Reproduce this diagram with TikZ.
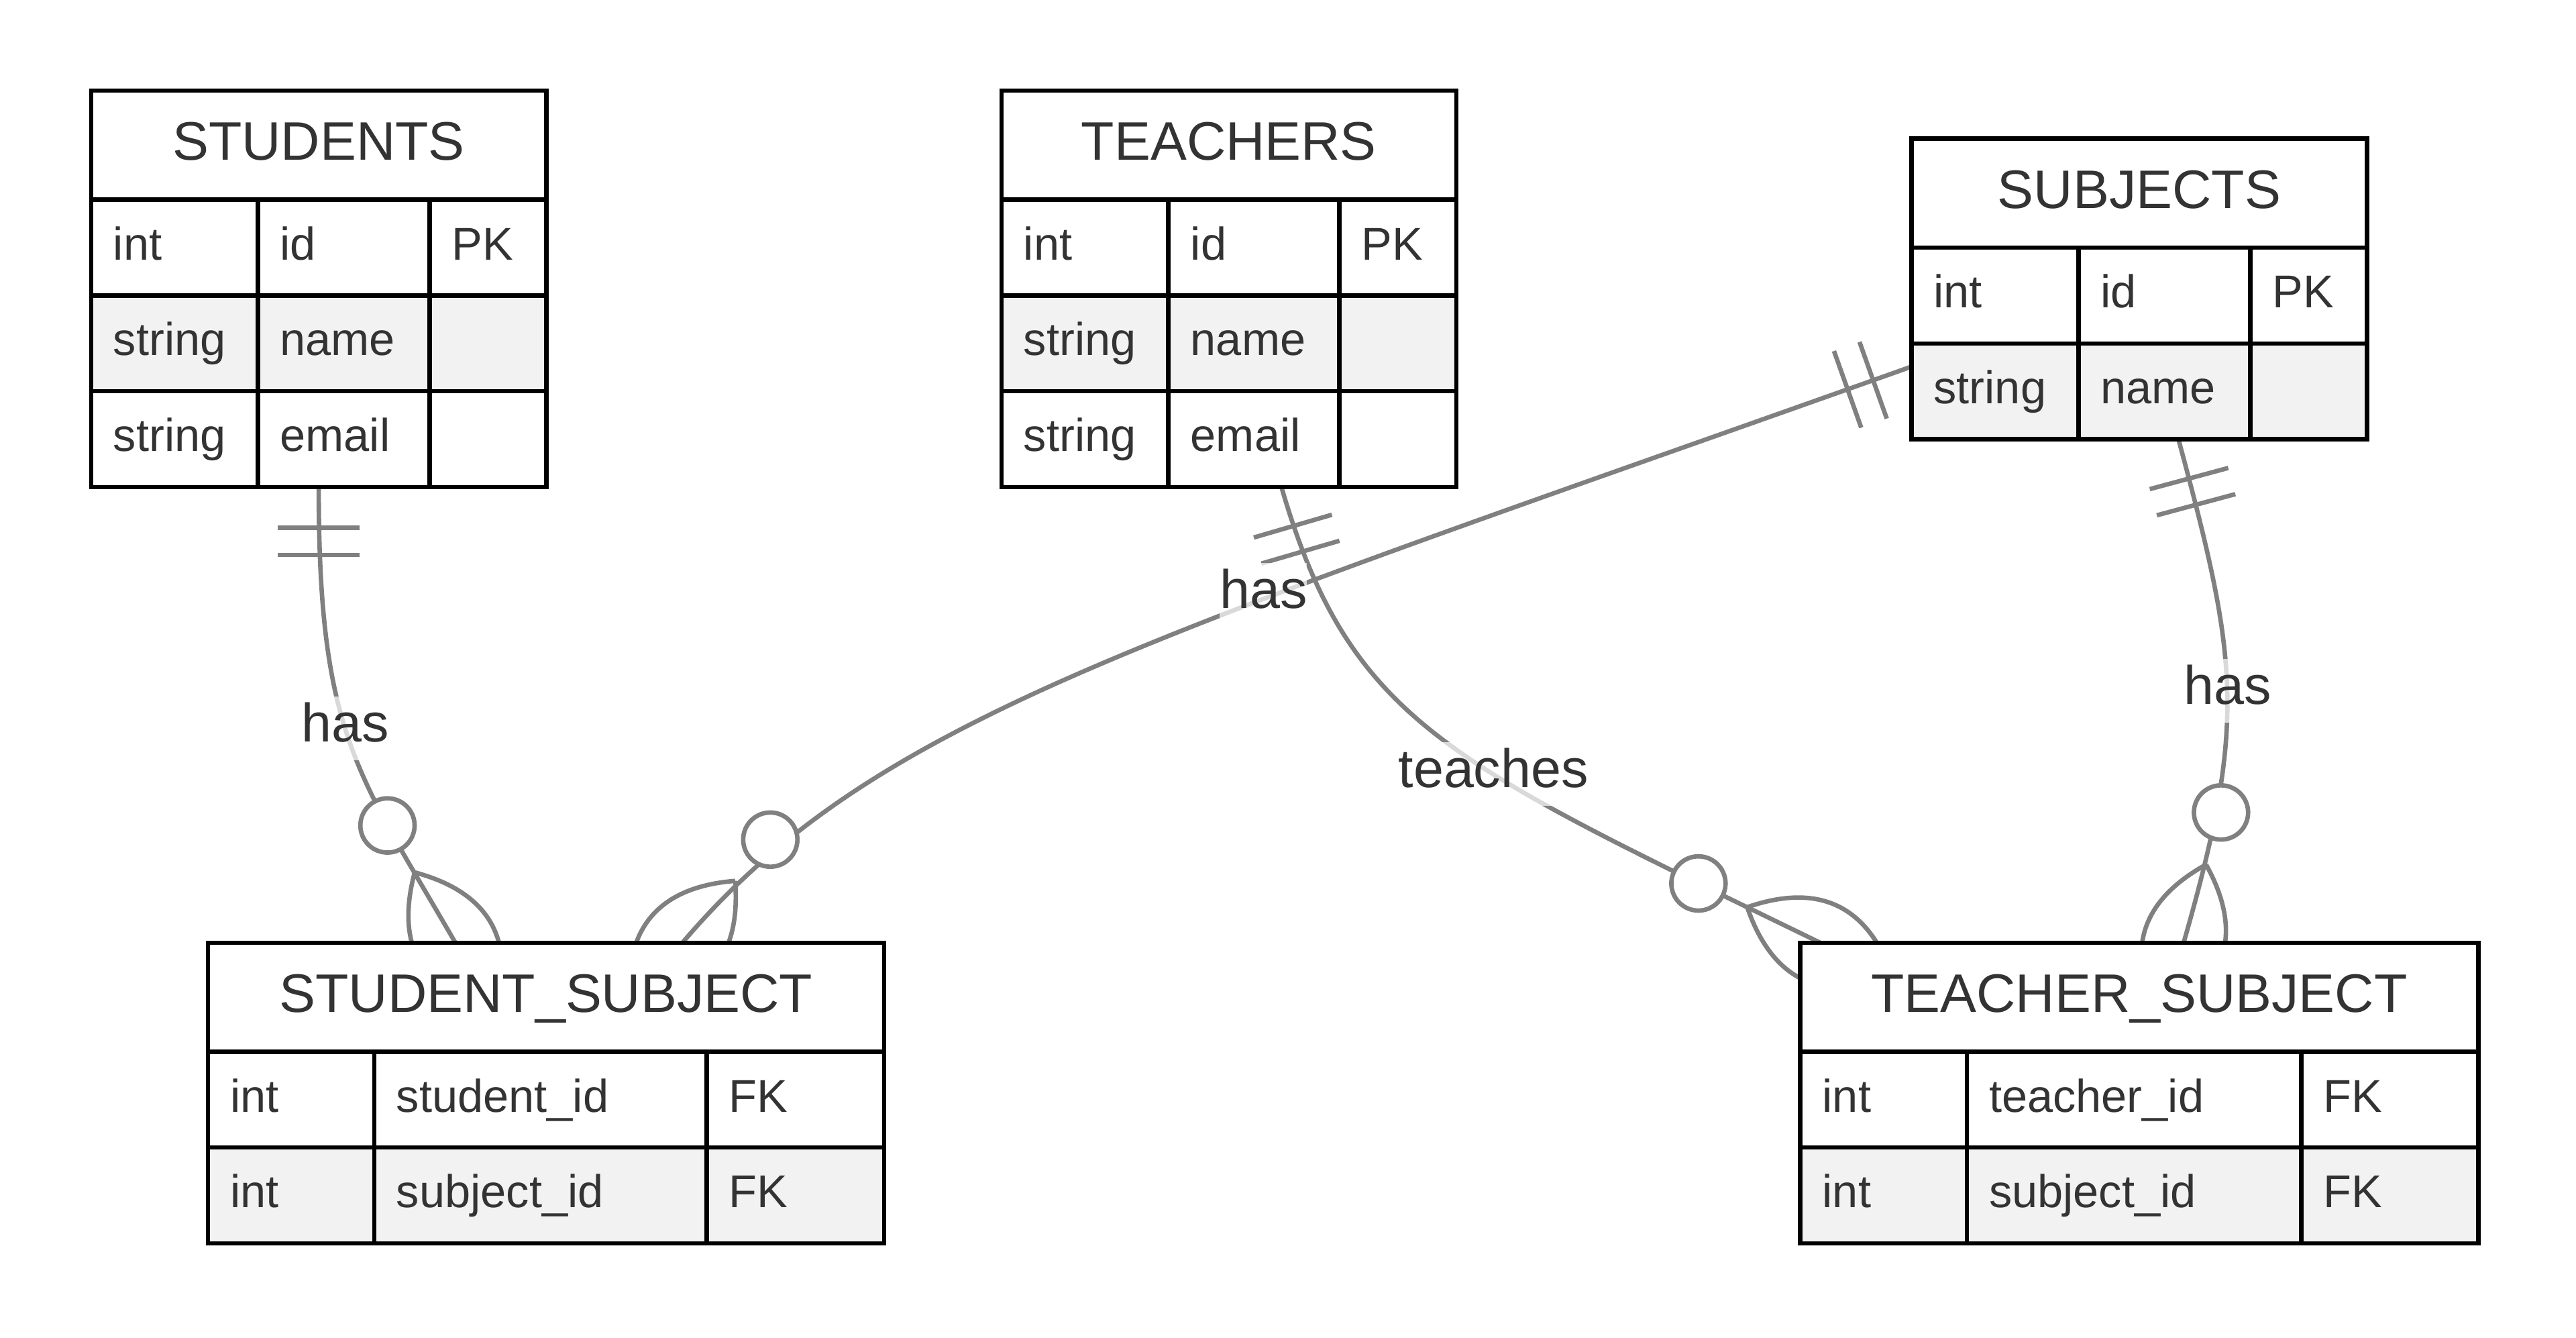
\documentclass[tikz,border=0pt]{standalone}
\usepackage{fontspec}
\setmainfont{Liberation Sans}
\usetikzlibrary{calc,decorations.markings}
\pgfdeclarelayer{bg}
\pgfsetlayers{bg,main}
\definecolor{txt}{HTML}{333333}
\definecolor{relc}{HTML}{808080}
\definecolor{rowb}{HTML}{F2F2F2}
\newcommand\erfont{\fontsize{28}{33.6}\selectfont}
\newcommand\ertfont{\fontsize{33}{39.6}\selectfont}
\tikzset{
  tablebox/.style={anchor=north west, inner sep=0pt, outer sep=0pt, draw=black, line width=2.7pt},
  cellbox/.style={anchor=north west, inner sep=0pt, outer sep=0pt, draw=black, line width=2.7pt, minimum height=58.3pt},
  titlebox/.style={anchor=north west, inner sep=0pt, outer sep=0pt, draw=black, fill=white, line width=2.7pt, minimum height=66.3pt},
  celltext/.style={anchor=base west, inner sep=0pt, text=txt, font=\erfont},
  titletext/.style={anchor=base, inner sep=0pt, text=txt, font=\ertfont},
  rel/.style={draw=relc, line width=2.7pt},
  rellabel/.style={anchor=base, inner sep=0pt, text=txt, font=\ertfont, fill=white, fill opacity=0.7, text opacity=1, text height=27.7pt, text depth=11.2pt},
  onlyone/.style={postaction={decorate, decoration={markings, mark=at position 0 with {\draw[rel] (24.75,-24.75) -- (24.75,24.75) (41.25,-24.75) -- (41.25,24.75);}}}},
  manyend/.style={postaction={decorate, decoration={markings, mark=at position 0 with {\draw[rel] (49.5,0) .. controls (16.5,33) and (-16.5,33) .. (-49.5,0) .. controls (-16.5,-33) and (16.5,-33) .. (49.5,0); \draw[rel, fill=white] (82.5,0) circle[radius=16.5pt];}}}}
}
\newcommand\erlink[4]{%
  \draw[rel, onlyone] #1 .. controls +#2 and +#3 .. #4;
  \path[manyend] #4 .. controls +#3 and +#2 .. #1;
}
\newcommand\ertable[7]{%
  \def\ername{#1}\def\erx{#2}\def\ery{#3}\def\erwa{#4}\def\erwb{#5}\def\erwc{#6}%
  \pgfmathsetmacro\erW{#4+#5+#6}%
  \node[titlebox, minimum width=\erW pt] (#1-head) at (#2,#3) {};
  \node[titletext] (#1-title) at ($(#1-head.north)+(0,42.2)$) {#7};
}
\newcommand\errow[5]{%
  \pgfmathsetmacro\erry{\ery+66.3+(#1-1)*58.3}%
  \pgfmathsetmacro\erxb{\erx+\erwa}%
  \pgfmathsetmacro\erxc{\erx+\erwa+\erwb}%
  \node[cellbox, fill=#2, minimum width=\erwa pt] (\ername-r#1a) at (\erx,\erry) {};
  \node[cellbox, fill=#2, minimum width=\erwb pt] (\ername-r#1b) at (\erxb,\erry) {};
  \node[cellbox, fill=#2, minimum width=\erwc pt] (\ername-r#1c) at (\erxc,\erry) {};
  \node[celltext] (\ername-r#1a-t) at ($(\ername-r#1a.north west)+(13.3,36.6)$) {#3};
  \node[celltext] (\ername-r#1b-t) at ($(\ername-r#1b.north west)+(13.3,36.6)$) {#4};
  \ifx\relax#5\relax\else
  \node[celltext] (\ername-r#1c-t) at ($(\ername-r#1c.north west)+(13.3,36.6)$) {#5};
  \fi
}
\newcommand\erclose[1]{%
  \pgfmathsetmacro\erH{66.3+#1*58.3}%
  \node[tablebox, minimum width=\erW pt, minimum height=\erH pt] (\ername) at (\erx,\ery) {};
}
\begin{document}
\begin{tikzpicture}[x=1pt, y=-1pt]
\useasboundingbox (0,0) rectangle (1568,814);

\ertable{students}{55.5}{55.2}{101.5}{104.5}{71}{STUDENTS}
\errow{1}{white}{int}{id}{PK}
\errow{2}{rowb}{string}{name}{}
\errow{3}{white}{string}{email}{}
\erclose{3}

\ertable{teachers}{609.6}{55.2}{101.6}{104.1}{71.1}{TEACHERS}
\errow{1}{white}{int}{id}{PK}
\errow{2}{rowb}{string}{name}{}
\errow{3}{white}{string}{email}{}
\erclose{3}

\ertable{subjects}{1163.5}{84.4}{101.7}{104.6}{71}{SUBJECTS}
\errow{1}{white}{int}{id}{PK}
\errow{2}{rowb}{string}{name}{}
\erclose{2}

\ertable{ss}{126.6}{573.7}{101.2}{202.3}{108}{STUDENT\_SUBJECT}
\errow{1}{white}{int}{student\_id}{FK}
\errow{2}{rowb}{int}{subject\_id}{FK}
\erclose{2}

\ertable{ts}{1095.8}{573.7}{101.4}{203.6}{107.7}{TEACHER\_SUBJECT}
\errow{1}{white}{int}{teacher\_id}{FK}
\errow{2}{rowb}{int}{subject\_id}{FK}
\erclose{2}

\begin{pgfonlayer}{bg}
\fill[white] (0,0) rectangle (1568,814);
\erlink{(students.south)}{(0,150)}{(-60.1,-103.8)}{($(ss.north west)+(150.6,0)$)}
\erlink{($(subjects.south west)+(0,-44.2)$)}{(-471,167.5)}{(116.8,-137)}{($(ss.north)+(83,0)$)}
\erlink{($(subjects.south)+(23.85,0)$)}{(36.4,135.1)}{(38.6,-134.5)}{($(ts.north)+(27,0)$)}
\erlink{($(teachers.south)+(32,0)$)}{(42,144)}{(-225,-109.5)}{($(ts.north west)+(12.2,0)$)}
\end{pgfonlayer}

\node[rellabel] (lbl-st) at (210.3,451.5) {has};
\node[rellabel] (lbl-sub1) at (769,370.2) {has};
\node[rellabel] (lbl-sub2) at (1356,428.7) {has};
\node[rellabel] (lbl-teach) at (909,479.2) {teaches};
\end{tikzpicture}
\end{document}
